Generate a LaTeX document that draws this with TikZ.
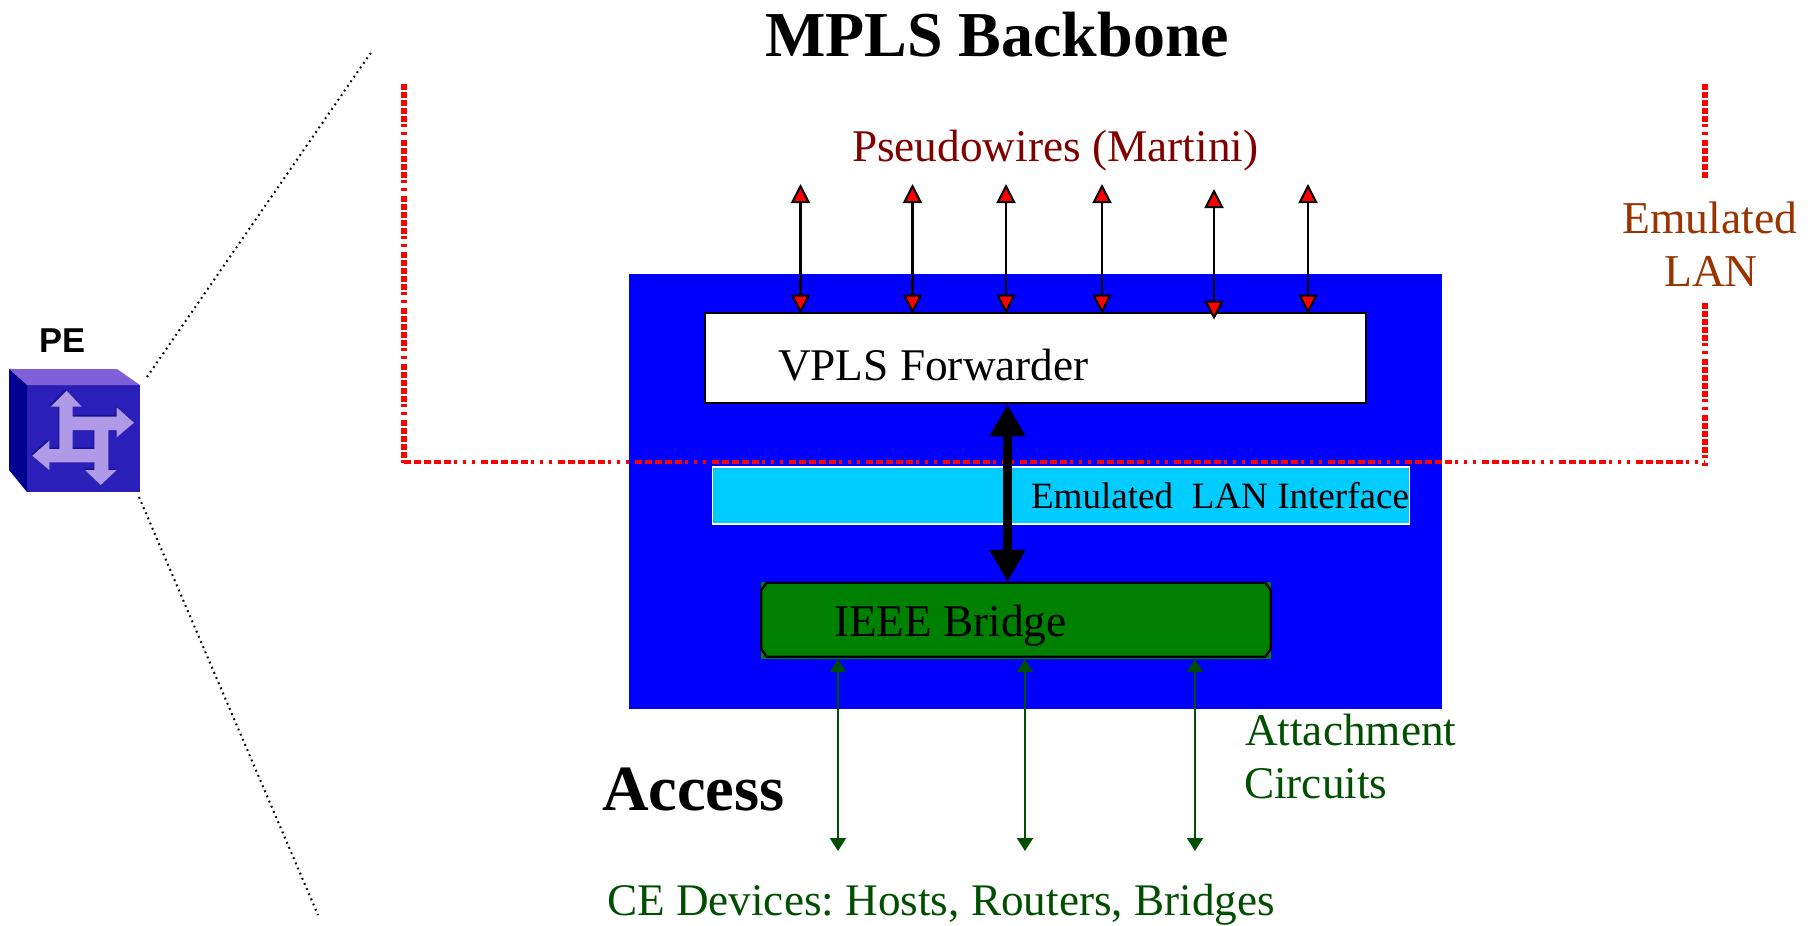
\documentclass[tikz,border=0pt]{standalone}
\usepackage{fontspec}
\setmainfont{Liberation Serif}
\newfontfamily\pesans{Liberation Sans}
\usetikzlibrary{arrows.meta,calc}
\definecolor{wblue}{HTML}{0000FF}
\definecolor{wcyan}{HTML}{00CCFF}
\definecolor{wgreen}{HTML}{008000}
\definecolor{wdgreen}{HTML}{004F00}
\definecolor{wmaroon}{HTML}{800000}
\definecolor{wbrown}{HTML}{993300}
\definecolor{pefront}{HTML}{2A1FB8}
\definecolor{petop}{HTML}{8060D8}
\definecolor{peleft}{HTML}{000090}
\definecolor{peglyph}{HTML}{B09AE8}
\definecolor{peshadow}{HTML}{17108A}
\tikzset{
  lbl/.style={inner sep=0pt,outer sep=0pt,anchor=base west},
  fs/.style={font=\fontsize{#1}{#1}\selectfont\frenchspacing},
  fsb/.style={font=\fontsize{#1}{#1}\selectfont\bfseries},
  pw/.style={draw=black,line width=2.2pt,{Triangle[length=19pt,width=19pt,fill=red,line width=2pt]}-{Triangle[length=19pt,width=19pt,fill=red,line width=2pt]}},
  ac/.style={draw=wdgreen,line width=2pt,{Triangle[length=13pt,width=16pt]}-{Triangle[length=13pt,width=16pt]}},
  thick arrow/.style={draw=black,line width=8.7pt,{Triangle[length=32pt,width=34pt]}-{Triangle[length=32pt,width=34pt]}},
  lan thick/.style={draw=red,line width=6pt,dash pattern=on 6pt off 2pt on 6pt off 2pt on 6pt off 2pt on 6pt off 2pt on 6pt off 2pt on 2.5pt off 5.5pt on 2.5pt off 5.5pt},
  lan thin/.style={draw=red,line width=3.2pt,dash pattern=on 7pt off 3pt on 7pt off 3pt on 7pt off 3pt on 7pt off 3pt on 7pt off 3pt on 3pt off 6pt on 3pt off 6pt on 3pt off 6pt},
  zoomline/.style={draw=black,line width=2pt,dash pattern=on 1.8pt off 3.8pt},
}
\begin{document}
\begin{tikzpicture}[x=1pt,y=-1pt]
\useasboundingbox (0,0) rectangle (1816,926);
% blue PE body and inner boxes
\node[fill=wblue,inner sep=0,minimum width=813pt,minimum height=435pt] (pe) at (1035.5,491.5) {};
\node[draw=black,fill=white,line width=2.6pt,inner sep=0,minimum width=661pt,minimum height=90pt] (vpls) at (1035.5,358) {};
\node[draw=white,fill=wcyan,line width=1.2pt,inner sep=0,minimum width=697pt,minimum height=57pt] (eli) at (1061,495.5) {};
\node[fill=wgreen,inner sep=0,minimum width=510pt,minimum height=77pt] (bridge) at (1016,620.5) {};
\draw[black,line width=2.2pt]
  ($(bridge.north west)+(6,1)$) -- ($(bridge.north east)+(-6,1)$) -- ($(bridge.north east)+(-0.5,8)$)
  -- ($(bridge.south east)+(-0.5,-10)$) -- ($(bridge.south east)+(-6,-2.5)$) -- ($(bridge.south west)+(6,-2.5)$)
  -- ($(bridge.south west)+(0.5,-10)$) -- ($(bridge.north west)+(0.5,8)$) -- cycle;
% emulated LAN dashed outline
\coordinate (lanTL) at (404,84);
\coordinate (lanBL) at (404,467);
\coordinate (lanJL) at (404,462);
\coordinate (lanJR) at (1705,462);
\coordinate (lanRa) at (1705,84);
\coordinate (lanRb) at (1705,178);
\coordinate (lanRc) at (1705,303);
\coordinate (lanRd) at (1705,468);
\draw[lan thick] (lanTL) -- (lanBL);
\draw[lan thick] (lanRa) -- (lanRb);
\draw[lan thick] (lanRc) -- (lanRd);
\draw[lan thin] (lanJL) -- (lanJR);
% pseudowires
\coordinate (p1) at (800.5,184);
\coordinate (p2) at (912.5,184);
\coordinate (p3) at (1006,184);
\coordinate (p4) at (1102,184);
\coordinate (p5) at (1214,189);
\coordinate (p6) at (1308,184);
\foreach \n in {p1,p2,p3,p4,p6}{\draw[pw] (\n) -- ($(\n |- vpls.north)+(0,2)$);}
\draw[pw] (p5) -- ($(p5 |- vpls.north)+(0,8)$);
% thick arrow
\coordinate (tk) at (1007.5,500);
\draw[thick arrow] (tk |- vpls.south) -- (tk |- bridge.north);
% attachment circuits
\coordinate (c1) at (838,851);
\coordinate (c2) at (1025,851);
\coordinate (c3) at (1195,851);
\foreach \n in {c1,c2,c3}{\draw[ac] (\n |- bridge.south) -- (\n);}
% PE icon
\fill[pefront] (27,385) rectangle (140,492);
\fill[petop] (9,369) -- (117,369) -- (140,385) -- (27,385) -- cycle;
\fill[peleft] (9,369) -- (27,385) -- (27,492) -- (9,470) -- cycle;
\begin{scope}[shift={(-1pt,1.5pt)}]
\fill[peshadow,even odd rule] (66.7,390.7) -- (81.7,406.7) -- (72.7,406.7) -- (72.7,416.7) -- (116.7,416.7) -- (116.7,407.3) -- (134,422.7) -- (116.7,437.3) -- (116.7,430) -- (108.3,430) -- (108.3,470) -- (116.7,470) -- (100.7,485) -- (85,470) -- (94.3,470) -- (94.3,462.3) -- (49.3,462.3) -- (49.3,470) -- (32.3,455.7) -- (49.3,440.7) -- (49.3,449) -- (59.3,449) -- (59.3,406.7) -- (50.7,406.7) -- cycle (72.7,430) rectangle (94.3,449);
\end{scope}
\fill[peglyph,even odd rule] (66.7,390.7) -- (81.7,406.7) -- (72.7,406.7) -- (72.7,416.7) -- (116.7,416.7) -- (116.7,407.3) -- (134,422.7) -- (116.7,437.3) -- (116.7,430) -- (108.3,430) -- (108.3,470) -- (116.7,470) -- (100.7,485) -- (85,470) -- (94.3,470) -- (94.3,462.3) -- (49.3,462.3) -- (49.3,470) -- (32.3,455.7) -- (49.3,440.7) -- (49.3,449) -- (59.3,449) -- (59.3,406.7) -- (50.7,406.7) -- cycle (72.7,430) rectangle (94.3,449);
% zoom lines
\coordinate (zu) at (147,377);
\coordinate (zue) at (372,51);
\coordinate (zl) at (139,497);
\coordinate (zle) at (318,915);
\draw[zoomline] (zu) -- (zue);
\draw[zoomline] (zl) -- (zle);
% texts
\node[lbl,fsb=64] (title) at (765,56) {MPLS Backbone};
\node[lbl,fs=45.3,text=wmaroon] (pseudo) at (852,161) {Pseudowires (Martini)};
\node[lbl,fs=45.6,text=wbrown,anchor=base] (elan1) at (1710,233) {Emulated};
\node[lbl,fs=45.6,text=wbrown,anchor=base] (elan2) at (1711,286) {LAN};
\node[lbl,fs=45.3] (vplst) at (778,380) {VPLS Forwarder};
\node[lbl,fs=37.1] (elit) at (1031,508) {Emulated\ \ LAN Interface};
\node[lbl,fs=45.3] (brt) at (834,636) {IEEE Bridge};
\node[lbl,fsb=64.5] (acc) at (602,810) {Access};
\node[lbl,fs=45.3,text=wdgreen] (att1) at (1245,745) {Attachment};
\node[lbl,fs=45.3,text=wdgreen] (att2) at (1244,798) {Circuits};
\node[lbl,fs=45.2,text=wdgreen] (ce) at (607,915) {CE Devices: Hosts, Routers, Bridges};
\node[lbl,font=\fontsize{34.5}{34.5}\selectfont\pesans\bfseries] (pet) at (39,352) {PE};
\end{tikzpicture}
\end{document}
